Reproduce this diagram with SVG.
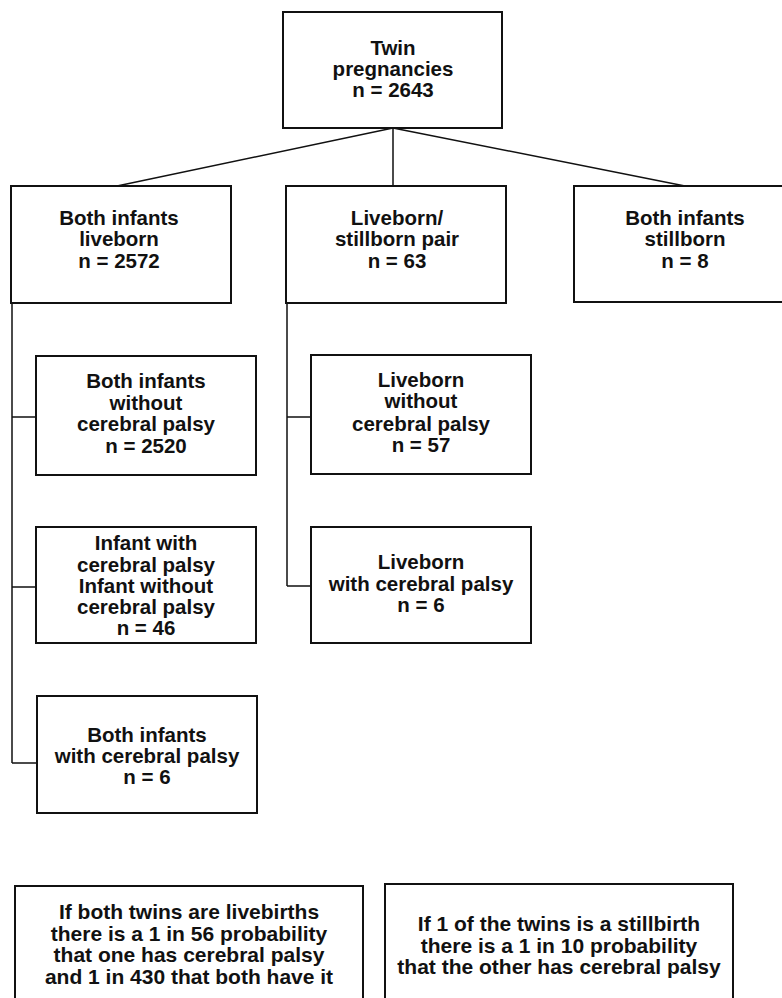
<svg xmlns="http://www.w3.org/2000/svg" width="782" height="998" viewBox="0 0 782 998">
<style>
.box{fill:#fff;stroke:#111;stroke-width:2}
.t{font-family:"Liberation Sans",Arial,sans-serif;font-weight:bold;font-size:20.5px;fill:#111;text-anchor:middle}
.s{font-family:"Liberation Sans",Arial,sans-serif;font-weight:bold;font-size:21px;fill:#111;text-anchor:middle}
.c{fill:none;stroke:#111;stroke-width:1.5}
</style>
<rect width="782" height="998" fill="#fff"/>
<g id="connectors">
<path class="c" d="M393,128 L117,186 M393,128 L393,186 M393,128 L685,186"/>
<path class="c" d="M12,303 L12,763 M12,417 L36,417 M12,587 L36,587 M12,763 L37,763"/>
<path class="c" d="M287,303 L287,586 M287,417 L311,417 M287,586 L311,586"/>
</g>
<g id="twin">
<rect class="box" x="283" y="12" width="219" height="116"/>
<text class="t" x="393" y="55">Twin</text>
<text class="t" x="393" y="76">pregnancies</text>
<text class="t" x="393" y="97">n = 2643</text>
</g>
<g id="both-liveborn">
<rect class="box" x="11" y="186" width="220" height="117"/>
<text class="t" x="119" y="225">Both infants</text>
<text class="t" x="119" y="246">liveborn</text>
<text class="t" x="119" y="268">n = 2572</text>
</g>
<g id="live-still">
<rect class="box" x="286" y="186" width="220" height="117"/>
<text class="t" x="397" y="225">Liveborn/</text>
<text class="t" x="397" y="246">stillborn pair</text>
<text class="t" x="397" y="268">n = 63</text>
</g>
<g id="both-stillborn">
<rect class="box" x="574" y="186" width="222" height="116"/>
<text class="t" x="685" y="225">Both infants</text>
<text class="t" x="685" y="246">stillborn</text>
<text class="t" x="685" y="268">n = 8</text>
</g>
<g id="both-without">
<rect class="box" x="36" y="356" width="220" height="119"/>
<text class="t" x="146" y="388">Both infants</text>
<text class="t" x="146" y="410">without</text>
<text class="t" x="146" y="431">cerebral palsy</text>
<text class="t" x="146" y="453">n = 2520</text>
</g>
<g id="one-with">
<rect class="box" x="36" y="527" width="220" height="116"/>
<text class="t" x="146" y="550">Infant with</text>
<text class="t" x="146" y="572">cerebral palsy</text>
<text class="t" x="146" y="593">Infant without</text>
<text class="t" x="146" y="614">cerebral palsy</text>
<text class="t" x="146" y="635">n = 46</text>
</g>
<g id="both-with">
<rect class="box" x="37" y="696" width="220" height="117"/>
<text class="t" x="147" y="742">Both infants</text>
<text class="t" x="147" y="763">with cerebral palsy</text>
<text class="t" x="147" y="784">n = 6</text>
</g>
<g id="liveborn-without">
<rect class="box" x="311" y="355" width="220" height="119"/>
<text class="t" x="421" y="387">Liveborn</text>
<text class="t" x="421" y="408">without</text>
<text class="t" x="421" y="431">cerebral palsy</text>
<text class="t" x="421" y="452">n = 57</text>
</g>
<g id="liveborn-with">
<rect class="box" x="311" y="527" width="220" height="116"/>
<text class="t" x="421" y="569">Liveborn</text>
<text class="t" x="421" y="591">with cerebral palsy</text>
<text class="t" x="421" y="612">n = 6</text>
</g>
<g id="note-livebirths">
<rect class="box" x="15" y="886" width="348" height="130"/>
<text class="s" x="189" y="919">If both twins are livebirths</text>
<text class="s" x="189" y="940.5">there is a 1 in 56 probability</text>
<text class="s" x="189" y="962">that one has cerebral palsy</text>
<text class="s" x="189" y="983.5">and 1 in 430 that both have it</text>
</g>
<g id="note-stillbirth">
<rect class="box" x="385" y="884" width="348" height="130"/>
<text class="s" x="559" y="931">If 1 of the twins is a stillbirth</text>
<text class="s" x="559" y="952.5">there is a 1 in 10 probability</text>
<text class="s" x="559" y="974">that the other has cerebral palsy</text>
</g>
</svg>
